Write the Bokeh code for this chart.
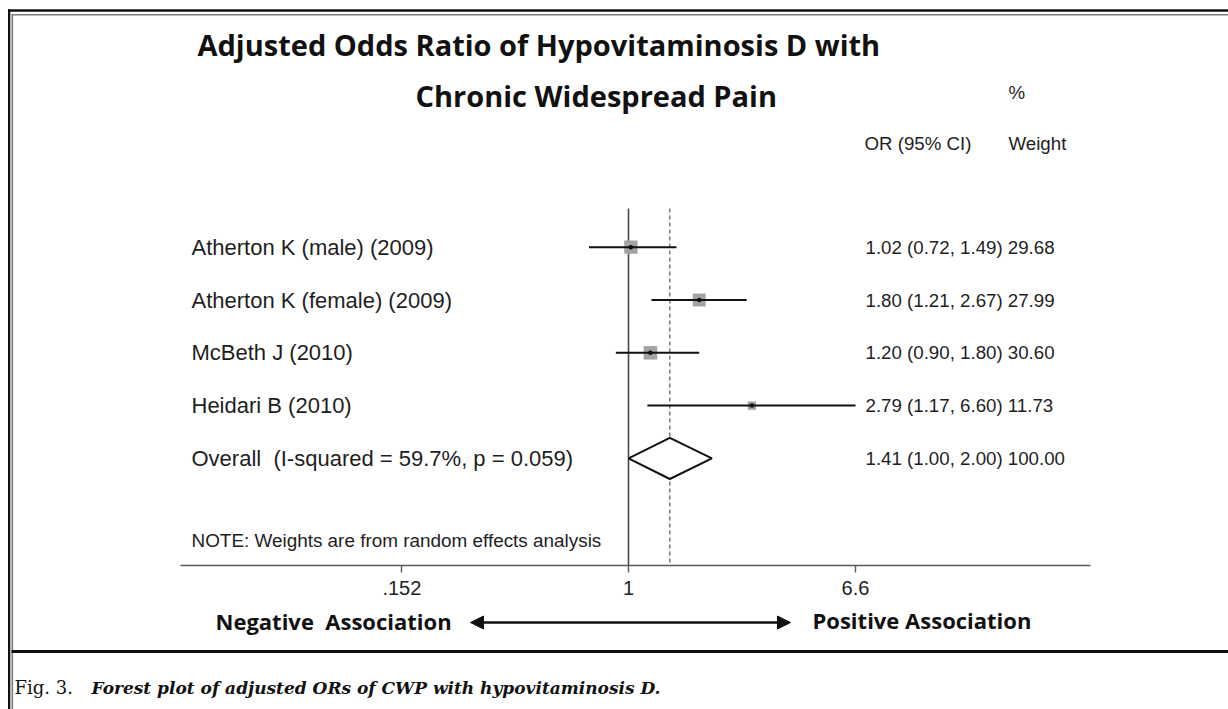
import math
from bokeh.plotting import figure
from bokeh.models import (ColumnDataSource, FixedTicker, Range1d, LinearScale,
                          Arrow, NormalHead, CustomJSTickFormatter)
from bokeh.core.properties import value
from bokeh.embed import file_html
from bokeh.resources import INLINE

# ---------------- data ----------------
studies = ["Atherton K (male) (2009)", "Atherton K (female) (2009)",
           "McBeth J (2010)", "Heidari B (2010)"]
or_est = [1.02, 1.80, 1.20, 2.79]
ci_low = [0.72, 1.21, 0.90, 1.17]
ci_high = [1.49, 2.67, 1.80, 6.60]
weights = [29.68, 27.99, 30.60, 11.73]
overall_label = "Overall\u00a0 (I-squared = 59.7%, p = 0.059)"
overall_or = 1.41
overall_low = 1.00
overall_high = 2.00
overall_weight = 100.00
tick_values = [0.152, 1, 6.6]
tick_labels = [".152", "1", "6.6"]
note_text = "NOTE: Weights are from random effects analysis"
title_lines = ["Adjusted Odds Ratio of Hypovitaminosis D with", "Chronic Widespread Pain"]
caption_lead = "Fig. 3."
caption_text = "Forest plot of adjusted ORs of CWP with hypovitaminosis D."

# ---------------- layout constants (page pixels) ----------------
W, H = 1228, 709
PX_PER_LN = 120.3
ONE_X = 628                    # pixel of OR = 1
AX_L, AX_R = 180, 1090         # extent of the axis line
AX_Y = 565                     # pixel row of the axis
PLOT_TOP = 208
ROW_TOP_Y, ROW_STEP = 246.7, 52.8

def to_or(px):
    return math.exp((px - ONE_X) / PX_PER_LN)

n = len(studies)
rows = [n + 1 - i for i in range(n)]        # 5,4,3,2
overall_row = 1
note_row = -0.55
top_row = rows[0]
row_hi = top_row + ROW_TOP_Y / ROW_STEP
row_lo = top_row - (H - ROW_TOP_Y) / ROW_STEP

TXT = "#1e1e1e"
FONT = "Liberation Sans"
HEAD = "Open Sans"

p = figure(width=W, height=H, x_axis_type="log", y_axis_location=None, title=None,
           x_range=Range1d(to_or(0), to_or(W)), y_range=Range1d(H, 0),
           output_backend="svg", toolbar_location=None,
           min_border_left=0, min_border_right=0, min_border_top=0, min_border_bottom=0)
p.extra_x_ranges = {"px": Range1d(0, W)}
p.extra_x_scales = {"px": LinearScale()}
p.extra_y_ranges = {"rows": Range1d(row_lo, row_hi)}
p.extra_y_scales = {"rows": LinearScale()}
p.outline_line_color = None
p.grid.visible = False
p.background_fill_color = "white"
p.border_fill_color = "white"

# ---------------- axis ----------------
ax = p.xaxis[0]
ax.fixed_location = AX_Y
ax.bounds = (to_or(AX_L), to_or(AX_R))
ax.ticker = FixedTicker(ticks=tick_values)
ax.formatter = CustomJSTickFormatter(args=dict(tv=tick_values, tl=tick_labels), code="""
for (let i = 0; i < tv.length; i++) { if (Math.abs(tv[i] - tick) < 1e-6) return tl[i]; }
return "";
""")
ax.major_tick_out = 7
ax.major_tick_in = 0
ax.minor_tick_out = 0
ax.minor_tick_in = 0
ax.axis_line_color = "#5a5a5a"
ax.axis_line_width = 1.6
ax.major_tick_line_color = "#5a5a5a"
ax.major_tick_line_width = 1.4
ax.major_label_text_font = FONT
ax.major_label_text_font_size = "20px"
ax.major_label_text_color = TXT
ax.major_label_standoff = 8

# ---------------- reference lines ----------------
p.segment(x0=[1], x1=[1], y0=[PLOT_TOP], y1=[AX_Y], line_color="#4a4a4a", line_width=1.6)
p.segment(x0=[overall_or], x1=[overall_or], y0=[PLOT_TOP], y1=[AX_Y], line_color="#666666",
          line_width=1.3, line_dash="4 3")

# ---------------- study rows ----------------
src = ColumnDataSource(dict(
    y=rows, est=or_est, lo=ci_low, hi=ci_high, w=weights,
    size=[13.5 * math.sqrt(w / 30.6) for w in weights],
    name=studies,
    stat=[f"{e:.2f} ({l:.2f}, {h:.2f}) {w:.2f}" for e, l, h, w in zip(or_est, ci_low, ci_high, weights)],
))
p.scatter(x="est", y="y", size="size", marker="square", fill_color="#a3a3a3",
          line_color=None, source=src, y_range_name="rows")
p.segment(x0="lo", x1="hi", y0="y", y1="y", line_color="#111111", line_width=2,
          source=src, y_range_name="rows")
p.scatter(x="est", y="y", size=4.5, marker="circle", fill_color="#111111",
          line_color=None, source=src, y_range_name="rows")
p.text(x=191, y="y", text="name", text_font=value(FONT), text_font_size="22px",
       text_baseline="middle", text_color=TXT, source=src,
       x_range_name="px", y_range_name="rows")
p.text(x=865, y="y", text="stat", text_font=value(FONT), text_font_size="18.7px",
       text_baseline="middle", text_color=TXT, source=src,
       x_range_name="px", y_range_name="rows")

# overall diamond
dh = 0.39
p.patch(x=[overall_low, overall_or, overall_high, overall_or],
        y=[overall_row, overall_row + dh, overall_row, overall_row - dh],
        fill_color="white", line_color="#111111", line_width=2, y_range_name="rows")
p.text(x=[191], y=[overall_row], text=[overall_label], text_font=value(FONT),
       text_font_size="22px", text_baseline="middle", text_color=TXT,
       x_range_name="px", y_range_name="rows")
p.text(x=[865], y=[overall_row],
       text=[f"{overall_or:.2f} ({overall_low:.2f}, {overall_high:.2f}) {overall_weight:.2f}"],
       text_font=value(FONT), text_font_size="18.7px", text_baseline="middle", text_color=TXT,
       x_range_name="px", y_range_name="rows")
p.text(x=[191], y=[note_row], text=[note_text], text_font=value(FONT),
       text_font_size="18.9px", text_baseline="middle", text_color=TXT,
       x_range_name="px", y_range_name="rows")

# ---------------- page texts (pixel layout) ----------------
def lab(text, px, py, size, font=FONT, style="normal", baseline="middle", color=TXT, align="left"):
    p.text(x=[px], y=[py], text=[text], text_font=value(font), text_font_size=size,
           text_font_style=style, text_baseline=baseline, text_align=align,
           text_color=color, x_range_name="px")

lab(title_lines[0], 197, 44, "29px", font=HEAD, style="bold", color="#111111")
lab(title_lines[1], 415, 95, "29px", font=HEAD, style="bold", color="#111111")
lab("%", 1008, 92, "18.7px")
lab("OR (95% CI)", 864, 143, "18.7px")
lab("Weight", 1008, 143, "18.7px")
lab("Negative\u00a0 Association", 215, 620, "22px", font=HEAD, style="bold", color="#111111")
lab("Positive Association", 812, 619, "22px", font=HEAD, style="bold", color="#111111")
lab(caption_lead, 14, 687, "18px", font="DejaVu Serif", color="#111111")
lab(caption_text, 91, 687, "17px", font="DejaVu Serif", style="bold italic", color="#111111")

p.add_layout(Arrow(start=NormalHead(size=13, fill_color="#111111", line_color="#111111"),
                   end=NormalHead(size=13, fill_color="#111111", line_color="#111111"),
                   x_start=470, x_end=790, y_start=622, y_end=622,
                   x_range_name="px", line_color="#111111", line_width=2.5))

# ---------------- page borders ----------------
p.quad(left=[7.5, 11, 7.5, 11, 11], right=[W, W, 9.8, 12.6, W],
       top=[8.8, 13.4, 8.8, 13.4, 649.5], bottom=[11.2, 15, H, H, 652.5],
       fill_color=["#111111", "#7a7a7a", "#111111", "#7a7a7a", "#111111"],
       line_color=None, x_range_name="px")

open("out.html", "w").write(file_html(p, INLINE))
